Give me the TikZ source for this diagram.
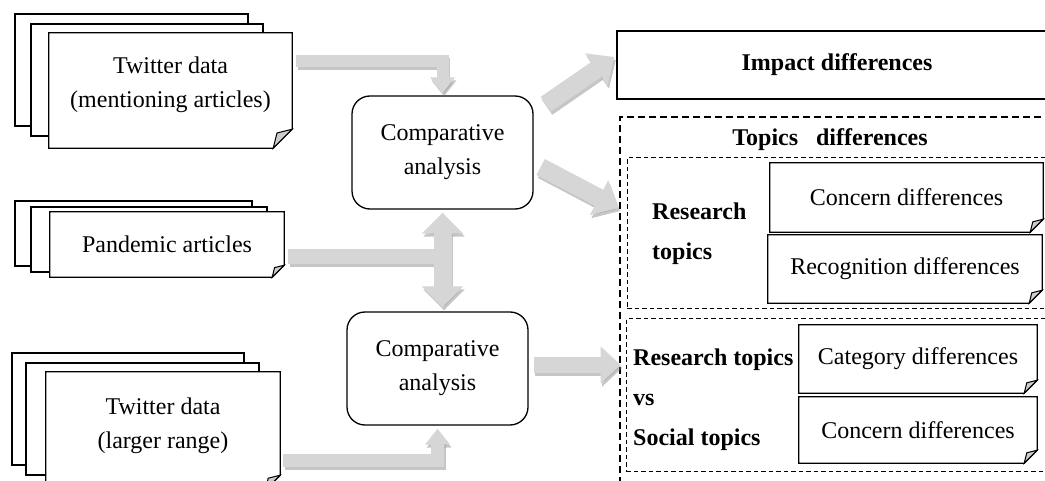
\documentclass[tikz,border=0pt]{standalone}
\usepackage{fontspec}
\setmainfont{Liberation Serif}
\usetikzlibrary{calc,arrows.meta}
\tikzset{%
  sheet/.style={draw,fill=white,line width=1.2pt},
  docpage/.style={fill=white,inner sep=0,align=center},
  cmpbox/.style={draw,rounded corners=18pt,line width=1.3pt,minimum width=181pt,minimum height=113pt,align=center},
  bigdash/.style={draw,line width=2.2pt,dash pattern=on 7pt off 4pt},
  smalldash/.style={draw,line width=1pt,dash pattern=on 4.5pt off 3pt},
  btext/.style={font=\fontsize{24}{34}\selectfont\bfseries},
  blab/.style={font=\bfseries\fontsize{24}{40}\selectfont,inner sep=0,align=left},
  gshadow/.style={draw=black!50,opacity=.45,line width=#1,transform canvas={shift={(1.5pt,-3pt)}}},
  gbody/.style={draw=gray!32,line width=#1}
}
\newcommand\blockarrow[3]{%
  \draw[gshadow=#1,#2] #3;
  \draw[gbody=#1,#2] #3;
}
\begin{document}
\begin{tikzpicture}[x=1pt,y=-1pt,font=\fontsize{24}{34}\selectfont]
  \useasboundingbox (0,0) rectangle (1045,481);
  \clip (0,0) rectangle (1045,481);
  % sheets behind the data pages
  \draw[sheet] (15,14) rectangle (248,126);
  \draw[sheet] (31,24) rectangle (263,136);
  \draw[sheet] (15,201) rectangle (252,266);
  \draw[sheet] (31,207) rectangle (267,272);
  \draw[sheet] (12,353) rectangle (244,465);
  \draw[sheet] (26,363) rectangle (259,475);
  % data pages
  \node[docpage,minimum width=243pt,minimum height=115pt] (twa) at (170.5,90.5) {Twitter data\\(mentioning articles)\\[-18pt]\mbox{}};
  \node[docpage,minimum width=234pt,minimum height=65pt] (pda) at (167,244.5) {Pandemic articles};
  \node[docpage,minimum width=234pt,minimum height=118pt] (twb) at (163,431) {Twitter data\\(larger range)\\[-18pt]\mbox{}};
  % comparisons
  \node[cmpbox] (cmp1) at (442.5,152.5) {Comparative\\analysis};
  \node[cmpbox] (cmp2) at (437.5,368.5) {Comparative\\analysis};
  % results
  \node[draw,btext,line width=1.3pt,minimum width=440pt,minimum height=68pt] (imp) at (837,65) {Impact differences};
  \node[bigdash,minimum width=450pt,minimum height=390pt] (tdiff) at (845,312) {};
  \node[btext] (tlab) at (830,140) {Topics~~~differences};
  \node[smalldash,minimum width=430pt,minimum height=151pt] (rtbox) at (842,233.5) {};
  \node[smalldash,minimum width=430pt,minimum height=152pt] (rsbox) at (841,395) {};
  \node[blab,anchor=west] (rtlab) at (652,234) {Research\\topics};
  \node[blab,anchor=west] (rslab) at (633,400) {Research topics\\vs\\Social topics};
  \node[docpage,minimum width=273pt,minimum height=69pt] (cdfa) at (906.5,197.5) {Concern differences};
  \node[docpage,minimum width=274pt,minimum height=68pt] (rdf) at (905,269) {Recognition differences};
  \node[docpage,minimum width=238pt,minimum height=68pt] (cat) at (918,359) {Category differences};
  \node[docpage,minimum width=238pt,minimum height=66pt] (cdfb) at (918,430) {Concern differences};
  % page outlines with folded corner
  \foreach \n/\f in {twa/19,pda/12,twb/15,cdfa/13,rdf/13,cat/13,cdfb/13}{
    \draw[line width=1.2pt] (\n.south west) -- (\n.north west) -- (\n.north east)
      -- ($(\n.south east)+(0,-\f)$) -- ($(\n.south east)+(-\f,0)$) -- cycle;
    \filldraw[fill=gray!40,line width=1pt] ($(\n.south east)+(0,-\f)$) -- ($(\n.south east)+(-\f,0)$)
      -- ($(\n.south east)+(-.8*\f,-.8*\f)$) -- cycle;
  }
  % block arrows
  \coordinate (pdaout) at ([xshift=4pt,yshift=-12pt]pda.east);
  \coordinate (twbout) at ([xshift=3pt,yshift=-29pt]twb.east);
  \blockarrow{12pt}{-{Triangle[length=16pt,width=24pt]}}{([xshift=4pt,yshift=-28pt]twa.north east) -| ([yshift=2pt]cmp1.north)}
  \blockarrow{15pt}{}{(pdaout) -- (pdaout -| cmp1.south)}
  \blockarrow{18pt}{{Triangle[length=21pt,width=40pt]}-{Triangle[length=21pt,width=40pt]},shorten <=3pt,shorten >=4pt}{(cmp1.south) -- (cmp1.south |- cmp2.north)}
  \blockarrow{13pt}{-{Triangle[length=16pt,width=24pt]},shorten >=3pt}{(twbout) -| (cmp2.south)}
  \blockarrow{18pt}{-{Triangle[length=22pt,width=38pt]}}{([xshift=12pt,yshift=-9pt]cmp1.north east) -- ([xshift=-2pt,yshift=8pt]imp.west)}
  \blockarrow{18pt}{-{Triangle[length=22pt,width=38pt]}}{([xshift=7pt,yshift=-14.5pt]cmp1.east) -- ([xshift=-8pt,yshift=25.5pt]rtbox.west)}
  \blockarrow{16pt}{-{Triangle[length=20pt,width=36pt]}}{([xshift=5pt,yshift=3.5pt]cmp2.east) -- ++(87,0)}
\end{tikzpicture}
\end{document}
